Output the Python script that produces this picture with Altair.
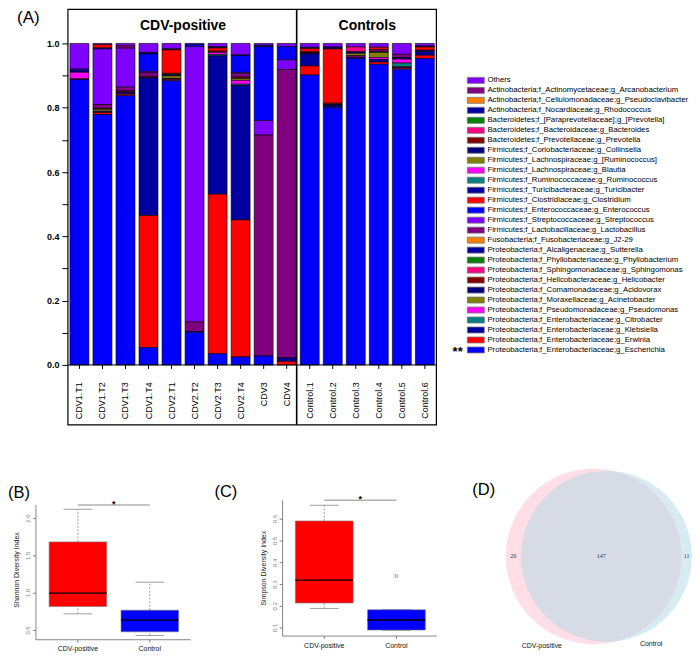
import math
import altair as alt
import pandas as pd

FONT = "Liberation Sans"
SERIF = "Liberation Serif"

# ---------------- Panel A : relative abundance ----------------
samples = ["CDV1.T1", "CDV1.T2", "CDV1.T3", "CDV1.T4", "CDV2.T1", "CDV2.T2",
           "CDV2.T3", "CDV2.T4", "CDV3", "CDV4",
           "Control.1", "Control.2", "Control.3", "Control.4", "Control.5", "Control.6"]
group_names = ["CDV-positive", "Controls"]
group_anchor = ["CDV2.T1", "Control.3"]

legend_taxa = [
    "Others",
    "Actinobacteria;f_Actinomycetaceae;g_Arcanobacterium",
    "Actinobacteria;f_Cellulomonadaceae;g_Pseudoclavibacter",
    "Actinobacteria;f_Nocardiaceae;g_Rhodococcus",
    "Bacteroidetes;f_[Paraprevotellaceae];g_[Prevotella]",
    "Bacteroidetes;f_Bacteroidaceae;g_Bacteroides",
    "Bacteroidetes;f_Prevotellaceae;g_Prevotella",
    "Firmicutes;f_Coriobacteriaceae;g_Collinsella",
    "Firmicutes;f_Lachnospiraceae;g_[Ruminococcus]",
    "Firmicutes;f_Lachnospiraceae;g_Blautia",
    "Firmicutes;f_Ruminococcaceae;g_Ruminococcus",
    "Firmicutes;f_Turicibacteraceae;g_Turicibacter",
    "Firmicutes;f_Clostridiaceae;g_Clostridium",
    "Firmicutes;f_Enterococcaceae;g_Enterococcus",
    "Firmicutes;f_Streptococcaceae;g_Streptococcus",
    "Firmicutes;f_Lactobacillaceae;g_Lactobacillus",
    "Fusobacteria;f_Fusobacteriaceae;g_J2-29",
    "Proteobacteria;f_Alcaligenaceae;g_Sutterella",
    "Proteobacteria;f_Phyllobacteriaceae;g_Phyllobacterium",
    "Proteobacteria;f_Sphingomonadaceae;g_Sphingomonas",
    "Proteobacteria;f_Helicobacteraceae;g_Helicobacter",
    "Proteobacteria;f_Comamonadaceae;g_Acidovorax",
    "Proteobacteria;f_Moraxellaceae;g_Acinetobacter",
    "Proteobacteria;f_Pseudomonadaceae;g_Pseudomonas",
    "Proteobacteria;f_Enterobacteriaceae;g_Citrobacter",
    "Proteobacteria;f_Enterobacteriaceae;g_Klebsiella",
    "Proteobacteria;f_Enterobacteriaceae;g_Erwinia",
    "Proteobacteria;f_Enterobacteriaceae;g_Escherichia",
]
taxa_colors = [
    "#8000FF", "#800080", "#FF8000", "#0000A0", "#008000", "#FF0080", "#800000",
    "#000080", "#808000", "#FF00FF", "#008080", "#0000A0", "#FF0000", "#0000FF",
    "#8000FF", "#800080", "#FF8000", "#0000A0", "#008000", "#FF0080", "#800000",
    "#000080", "#808000", "#FF00FF", "#008080", "#0000A0", "#FF0000", "#0000FF",
]

escherichia = [0.888, 0.779, 0.837, 0.054, 0.884, 0.102, 0.035, 0.025, 0.028, 0.000, 0.902, 0.800, 0.953, 0.935, 0.920, 0.953]
erwinia = [0.002, 0.006, 0.005, 0.411, 0.004, 0.000, 0.496, 0.426, 0.000, 0.011, 0.028, 0.000, 0.000, 0.007, 0.004, 0.010]
klebsiella = [0.000, 0.004, 0.006, 0.428, 0.003, 0.002, 0.430, 0.418, 0.000, 0.011, 0.037, 0.005, 0.003, 0.008, 0.003, 0.012]
citrobacter = [0, 0, 0, 0, 0, 0, 0.004, 0.004, 0, 0, 0, 0, 0, 0, 0.012, 0]
pseudomonas = [0.020, 0, 0, 0, 0, 0, 0.007, 0.012, 0, 0, 0, 0, 0, 0.006, 0.012, 0]
acinetobacter = [0, 0.006, 0, 0, 0.008, 0, 0, 0.006, 0, 0, 0, 0, 0, 0.016, 0, 0]
acidovorax = [0.010, 0, 0, 0, 0.004, 0, 0, 0, 0, 0, 0.003, 0.005, 0, 0, 0.005, 0.004]
helicobacter = [0, 0.003, 0.004, 0.004, 0.004, 0, 0.004, 0.004, 0, 0, 0.004, 0.004, 0, 0.003, 0, 0]
lactobacillus = [0, 0.012, 0.012, 0.012, 0, 0.030, 0, 0.012, 0.687, 0.897, 0, 0, 0.006, 0.006, 0.010, 0]
streptococcus = [0, 0.173, 0.121, 0.004, 0, 0.856, 0, 0.003, 0.045, 0.030, 0, 0, 0, 0, 0, 0]
enterococcus = [0, 0.003, 0, 0.054, 0, 0.007, 0, 0.052, 0.230, 0.041, 0, 0, 0, 0, 0, 0]
clostridium = [0, 0.010, 0, 0, 0.073, 0, 0.010, 0, 0, 0, 0.010, 0.169, 0, 0.007, 0, 0.010]
ruminococcus_lach = [0, 0, 0, 0, 0, 0, 0, 0, 0, 0, 0, 0, 0.007, 0, 0, 0]
collinsella = [0, 0, 0, 0.005, 0.003, 0, 0.004, 0.002, 0.004, 0, 0.004, 0.006, 0.005, 0, 0, 0.003]
bacteroides = [0, 0, 0, 0, 0, 0, 0, 0, 0, 0, 0, 0, 0.015, 0, 0, 0]
arcanobacterium = [0, 0, 0.008, 0, 0, 0, 0, 0, 0, 0, 0, 0, 0, 0, 0, 0]
others = [0.080, 0.004, 0.007, 0.028, 0.017, 0.003, 0.010, 0.036, 0.006, 0.010, 0.012, 0.011, 0.011, 0.012, 0.034, 0.008]

abundance = {
    "Escherichia": escherichia, "Erwinia": erwinia, "Klebsiella": klebsiella,
    "Citrobacter": citrobacter, "Pseudomonas": pseudomonas, "Acinetobacter": acinetobacter,
    "Acidovorax": acidovorax, "Helicobacter": helicobacter, "Lactobacillus": lactobacillus,
    "Streptococcus": streptococcus, "Enterococcus": enterococcus, "Clostridium": clostridium,
    "[Ruminococcus]": ruminococcus_lach, "Collinsella": collinsella, "Bacteroides": bacteroides,
    "Arcanobacterium": arcanobacterium, "Others": others,
}

# ---------------- Panel B / C : diversity boxplots ----------------
box_groups = ["CDV-positive", "Control"]
box_fill = ["#FF0000", "#0000FF"]
shannon_min = [0.723, 0.433]
shannon_q1 = [0.821, 0.482]
shannon_med = [1.000, 0.638]
shannon_q3 = [1.688, 0.772]
shannon_max = [2.125, 1.147]
shannon_ticks = [0.5, 1.0, 1.5, 2.0]

simpson_min = [0.190, 0.090]
simpson_q1 = [0.215, 0.091]
simpson_med = [0.320, 0.137]
simpson_q3 = [0.592, 0.184]
simpson_max = [0.664, 0.184]
simpson_outlier_group = [2]
simpson_outlier_value = [0.339]
simpson_ticks = [0.1, 0.2, 0.3, 0.4, 0.5, 0.6]

# ---------------- Panel D : Venn ----------------
venn_sets = ["CDV-positive", "Control"]
venn_only = [20, 11]
venn_shared = 147
venn_fill = ["#FFC0CB", "#ADD8E6"]

# =====================================================================
# Panel A
# =====================================================================
def genus(name):
    return name.split("g_")[-1] if "g_" in name else name

n_tax = len(legend_taxa)
rows = []
for li, full in enumerate(legend_taxa):
    vals = abundance.get(genus(full))
    if vals is None:
        continue
    for s, v in zip(samples, vals):
        if v > 0:
            rows.append({"sample": s, "taxon": full, "value": v, "pos": n_tax - 1 - li})
df_ab = pd.DataFrame(rows)
df_s = pd.DataFrame({"sample": samples})
one = pd.DataFrame({"t": [0]})

A_W, A_H = 401, 416          # plot group; the framed area starts 32 px in
A_L = 32
xs_A = alt.Scale(domain=samples, range=[A_L, A_W], paddingInner=0.176, paddingOuter=0.088)
ys_A = alt.Scale(domain=[-0.1863, 1.1056], nice=False, zero=False)
XA = alt.X("sample:N", scale=xs_A, axis=None, sort=samples)

bars = alt.Chart(df_ab).mark_bar(stroke="black", strokeWidth=0.6).encode(
    x=XA,
    y=alt.Y("value:Q", stack="zero", scale=ys_A,
            axis=alt.Axis(values=[0, 0.1, 0.2, 0.3, 0.4, 0.5, 0.6, 0.7, 0.8, 0.9, 1.0],
                          labelExpr="round(datum.value*10) % 2 == 0 ? format(datum.value, '.1f') : ''",
                          title=None, domain=False, grid=False, tickSize=6, tickColor="black",
                          tickWidth=1, labelFont=FONT, labelFontSize=9, labelFontWeight="bold",
                          labelColor="black", labelPadding=3, offset=-A_L)),
    color=alt.Color("taxon:N", scale=alt.Scale(domain=legend_taxa, range=taxa_colors),
                    legend=alt.Legend(title=None, orient="none", legendX=436, legendY=66.5,
                                      direction="vertical",
                                      symbolType="M-2.125,-0.75H2.125V0.75H-2.125Z",
                                      symbolSize=64, symbolStrokeColor="black",
                                      symbolStrokeWidth=0.8, symbolOpacity=1, labelFont=FONT,
                                      labelFontSize=7.8, labelColor="black", labelLimit=400,
                                      labelOffset=7.1, rowPadding=-1.5, padding=0)),
    order=alt.Order("pos:Q", sort="ascending"),
)

frame = alt.Chart(one).mark_rect(fillOpacity=0, stroke="black", strokeWidth=1.2).encode(
    x=alt.value(A_L), x2=alt.value(A_W), y=alt.value(0), y2=alt.value(A_H))

zero_line = alt.Chart(one).mark_rule(color="black", strokeWidth=1).encode(
    x=alt.value(A_L), x2=alt.value(A_W), y=alt.datum(0))

xticks = alt.Chart(df_s).mark_rule(color="black", strokeWidth=1).encode(
    x=XA, y=alt.datum(0), y2=alt.datum(-0.0124))

divider = alt.Chart(pd.DataFrame({"sample": [samples[9]]})).mark_rule(
    color="black", strokeWidth=1.6, xOffset=10).encode(x=XA)

header = alt.Chart(pd.DataFrame({"sample": group_anchor, "label": group_names})).mark_text(
    dx=11.53, fontSize=14, fontWeight="bold", font=FONT, color="black", baseline="middle").encode(
    x=XA, y=alt.datum(1.0528), text="label:N")

xlabels = alt.Chart(df_s).mark_text(angle=270, align="right", baseline="middle", fontSize=9,
                                     font=FONT, color="black").encode(
    x=XA, y=alt.datum(-0.054), text="sample:N")

tagA = alt.Chart(pd.DataFrame({"t": ["(A)"]})).mark_text(
    align="left", baseline="middle", fontSize=17, font=FONT, color="black").encode(
    x=alt.value(-19), y=alt.value(9), text="t:N")

starsA = alt.Chart(pd.DataFrame({"t": ["**"]})).mark_text(
    align="center", baseline="middle", fontSize=13, fontWeight="bold", font=FONT, color="black").encode(
    x=alt.value(422.3), y=alt.value(343.5), text="t:N")

panelA = alt.layer(bars, frame, zero_line, xticks, divider, header, xlabels, tagA, starsA).properties(
    width=A_W, height=A_H)


# =====================================================================
# Panels B & C  (R-style boxplots, axes drawn with rules/text on the scales)
# =====================================================================
AX = "#666"


def box_panel(tag, mins, q1s, meds, q3s, maxs, yticks, ytitle, width, height, xdom, ydom,
              axis_top, tag_xy, bounds, out_g=None, out_v=None):
    df = pd.DataFrame({"g": [1, 2], "name": box_groups, "fill": box_fill,
                       "mn": mins, "q1": q1s, "med": meds, "q3": q3s, "mx": maxs})
    df["left"] = df["g"] - 0.4
    df["right"] = df["g"] + 0.4
    df["capl"] = df["g"] - 0.2
    df["capr"] = df["g"] + 0.2
    df["y0"] = ydom[0]
    xs = alt.Scale(domain=xdom, nice=False, zero=False)
    ys = alt.Scale(domain=ydom, nice=False, zero=False)

    def X0(f):
        return alt.X(f, scale=xs, axis=None)

    def Y0(f):
        return alt.Y(f, scale=ys, axis=None)

    base = alt.Chart(df)
    tdf = pd.DataFrame({"v": yticks, "x0": xdom[0], "lab": ["%.1f" % t for t in yticks]})
    frame_df = pd.DataFrame({"x0": [xdom[0]], "x1": [xdom[1]], "y0": [ydom[0]], "y1": [axis_top],
                             "ym": [(ydom[0] + ydom[1]) / 2], "t": [ytitle]})

    y_dom = alt.Chart(frame_df).mark_rule(color=AX, strokeWidth=0.8).encode(
        x=X0("x0:Q"), y=Y0("y0:Q"), y2="y1:Q")
    x_dom = alt.Chart(frame_df).mark_rule(color=AX, strokeWidth=0.8).encode(
        x=X0("x0:Q"), x2="x1:Q", y=Y0("y0:Q"))
    y_tk = alt.Chart(tdf).mark_rule(color=AX, strokeWidth=0.8, x2Offset=-3).encode(
        x=X0("x0:Q"), x2="x0:Q", y=Y0("v:Q"))
    y_lb = alt.Chart(tdf).mark_text(angle=270, align="center", baseline="bottom", dy=-5,
                                    fontSize=6, font=FONT, color="#808080").encode(
        x=X0("x0:Q"), y=Y0("v:Q"), text="lab:N")
    y_tt = alt.Chart(frame_df).mark_text(angle=270, align="center", baseline="bottom", dy=-16,
                                         fontSize=7, font=FONT, color="#222").encode(
        x=X0("x0:Q"), y=Y0("ym:Q"), text="t:N")
    x_tk = base.mark_rule(color=AX, strokeWidth=0.8, y2Offset=3).encode(
        x=X0("g:Q"), y=Y0("y0:Q"), y2="y0:Q")
    x_lb = base.mark_text(baseline="middle", dy=9.5, fontSize=7, font=FONT, color="#111").encode(
        x=X0("g:Q"), y=Y0("y0:Q"), text="name:N")

    whisk_hi = base.mark_rule(color="#888", strokeWidth=0.8, strokeDash=[2, 1.5]).encode(
        x=X0("g:Q"), y=Y0("q3:Q"), y2="mx:Q")
    whisk_lo = base.mark_rule(color="#888", strokeWidth=0.8, strokeDash=[2, 1.5]).encode(
        x=X0("g:Q"), y=Y0("mn:Q"), y2="q1:Q")
    cap_hi = base.mark_rule(color="#888", strokeWidth=0.8).encode(
        x=X0("capl:Q"), x2="capr:Q", y=Y0("mx:Q"))
    cap_lo = base.mark_rule(color="#888", strokeWidth=0.8).encode(
        x=X0("capl:Q"), x2="capr:Q", y=Y0("mn:Q"))
    box = base.mark_rect(stroke="#777", strokeWidth=0.6).encode(
        x=X0("left:Q"), x2="right:Q", y=Y0("q1:Q"), y2="q3:Q",
        color=alt.Color("fill:N", scale=None))
    med = base.mark_rule(color="black", strokeWidth=1.3).encode(
        x=X0("left:Q"), x2="right:Q", y=Y0("med:Q"))
    sig = alt.Chart(pd.DataFrame({"a": [1], "b": [2], "y": [axis_top]})).mark_rule(
        color="#b0b0b0", strokeWidth=1.4).encode(x=X0("a:Q"), x2="b:Q", y=Y0("y:Q"))
    star = alt.Chart(pd.DataFrame({"a": [1.5], "y": [axis_top], "t": ["*"]})).mark_text(
        fontSize=9, fontWeight="bold", font=FONT, color="black", baseline="middle", dy=-1).encode(
        x=X0("a:Q"), y=Y0("y:Q"), text="t:N")
    tagl = alt.Chart(pd.DataFrame({"t": [tag]})).mark_text(
        align="left", baseline="middle", fontSize=16.5, font=FONT, color="black").encode(
        x=alt.value(tag_xy[0]), y=alt.value(tag_xy[1]), text="t:N")
    bnd = alt.Chart(one).mark_rule(strokeOpacity=0, strokeWidth=0).encode(
        x=alt.value(bounds[0]), x2=alt.value(bounds[1]), y=alt.value(bounds[2]), y2=alt.value(bounds[3]))
    layers = [whisk_hi, whisk_lo, cap_hi, cap_lo, box, med, y_dom, x_dom, y_tk, y_lb, y_tt,
              x_tk, x_lb, sig, star, tagl, bnd]
    if out_g is not None:
        pts = alt.Chart(pd.DataFrame({"g": out_g, "v": out_v})).mark_point(
            shape="circle", filled=False, size=9, color="#666", strokeWidth=0.6, opacity=1).encode(
            x=X0("g:Q"), y=Y0("v:Q"))
        layers.append(pts)
    return alt.layer(*layers).properties(width=width, height=height)


panelB = box_panel("(B)", shannon_min, shannon_q1, shannon_med, shannon_q3, shannon_max,
                   shannon_ticks, "Shannon Diversity Index", 155, 139.7,
                   [0.4167, 2.5694], [0.3755, 2.2464], 2.1835, (-28, -6.8),
                   (-28, 164, -32.3, 149.5))

panelC = box_panel("(C)", simpson_min, simpson_q1, simpson_med, simpson_q3, simpson_max,
                   simpson_ticks, "Simpson Diversity Index", 154.4, 136,
                   [0.4232, 2.559], [0.0633, 0.687], 0.687, (-68.3, -8.3),
                   (-77.3, 157.7, -32.3, 149.5),
                   out_g=simpson_outlier_group, out_v=simpson_outlier_value)

# =====================================================================
# Panel D : area-proportional Venn
# =====================================================================
set_sizes = [venn_only[0] + venn_shared, venn_only[1] + venn_shared]
r_u = [math.sqrt(s / math.pi) for s in set_sizes]


def lens_area(d, r1, r2):
    if d >= r1 + r2:
        return 0.0
    if d <= abs(r1 - r2):
        return math.pi * min(r1, r2) ** 2
    a1 = r1 * r1 * math.acos((d * d + r1 * r1 - r2 * r2) / (2 * d * r1))
    a2 = r2 * r2 * math.acos((d * d + r2 * r2 - r1 * r1) / (2 * d * r2))
    a3 = 0.5 * math.sqrt((-d + r1 + r2) * (d + r1 - r2) * (d - r1 + r2) * (d + r1 + r2))
    return a1 + a2 - a3


lo, hi = abs(r_u[0] - r_u[1]) + 1e-9, r_u[0] + r_u[1]
for _ in range(200):
    mid = (lo + hi) / 2
    if lens_area(mid, r_u[0], r_u[1]) > venn_shared:
        lo = mid
    else:
        hi = mid
dist = (lo + hi) / 2

D_W, D_H = 247, 136
R1_PX = 88.0
ppu = R1_PX / r_u[0]
cx_px, cy_px = 148.5, 56.2
xs_D = alt.Scale(domain=[-cx_px / ppu, (D_W - cx_px) / ppu], nice=False, zero=False)
ys_D = alt.Scale(domain=[-(D_H - cy_px) / ppu, cy_px / ppu], nice=False, zero=False)

centers = [0.0, dist]
df_circ = pd.DataFrame({"set": venn_sets, "size": set_sizes, "cx": centers, "cy": [0.0, 0.0],
                        "fill": venn_fill})
circles = alt.Chart(df_circ).mark_circle(opacity=0.5).encode(
    x=alt.X("cx:Q", scale=xs_D, axis=None), y=alt.Y("cy:Q", scale=ys_D, axis=None),
    size=alt.Size("size:Q", scale=alt.Scale(type="linear", domain=[0, set_sizes[0]],
                                            range=[0, (2 * R1_PX) ** 2]), legend=None),
    color=alt.Color("fill:N", scale=None))

left_edge = [centers[0] - r_u[0], centers[1] - r_u[1]]
right_edge = [centers[0] + r_u[0], centers[1] + r_u[1]]
num_x = [(left_edge[0] + left_edge[1]) / 2, (left_edge[1] + right_edge[0]) / 2,
         (right_edge[0] + right_edge[1]) / 2]
df_num = pd.DataFrame({"x": num_x, "y": [0.0] * 3,
                       "t": [str(venn_only[0]), str(venn_shared), str(venn_only[1])]})
nums = alt.Chart(df_num).mark_text(font=SERIF, fontSize=6, color="#333", baseline="middle").encode(
    x=alt.X("x:Q", scale=xs_D, axis=None), y=alt.Y("y:Q", scale=ys_D, axis=None), text="t:N")

cat_angle = [210.1, 152.9]
cat_gap_px = [15.4, 12.7]
cat_x, cat_y = [], []
for i in range(2):
    R = r_u[i] + cat_gap_px[i] / ppu
    a = math.radians(cat_angle[i])
    cat_x.append(centers[i] + R * math.sin(a))
    cat_y.append(R * math.cos(a))
df_cat = pd.DataFrame({"x": cat_x, "y": cat_y, "t": venn_sets})
cats = alt.Chart(df_cat).mark_text(font=FONT, fontSize=7, color="#111", baseline="middle").encode(
    x=alt.X("x:Q", scale=xs_D, axis=None), y=alt.Y("y:Q", scale=ys_D, axis=None), text="t:N")

tagD = alt.Chart(pd.DataFrame({"t": ["(D)"]})).mark_text(
    align="left", baseline="middle", fontSize=16.5, font=FONT, color="black").encode(
    x=alt.value(27), y=alt.value(-10.6), text="t:N")
boundsD = alt.Chart(one).mark_rule(strokeOpacity=0, strokeWidth=0).encode(
    x=alt.value(0), x2=alt.value(D_W), y=alt.value(-32.3), y2=alt.value(149.5))

panelD = alt.layer(circles, nums, cats, tagD, boundsD).properties(width=D_W, height=D_H)

# =====================================================================
row = alt.hconcat(panelB, panelC, panelD, spacing=5)
chart = (alt.vconcat(panelA, row, spacing=41.5)
         .properties(padding=0)
         .configure(font=FONT)
         .configure_view(strokeOpacity=0))

chart.save("out.html", embed_options={"renderer": "svg", "actions": False})
